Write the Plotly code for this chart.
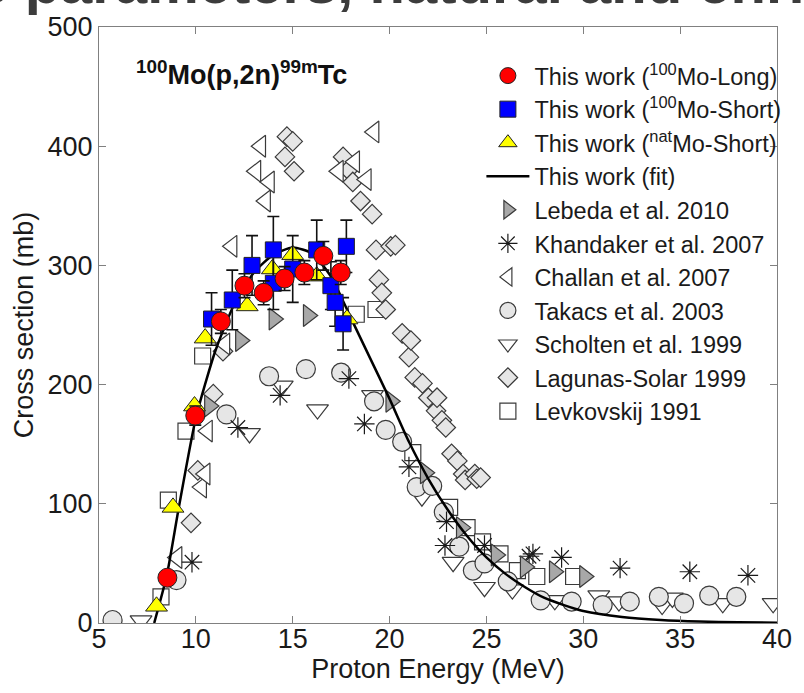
import plotly.graph_objects as go

# ---- This work: 100Mo(p,2n)99mTc cross sections (mb) vs proton energy (MeV)
long_E = [8.53, 9.97, 11.29, 12.51, 13.5, 14.58, 15.6, 16.58, 17.48]
long_xs = [38, 174, 253, 283, 277, 289, 294, 308, 294]
long_err = [3, 8, 10, 10, 10, 10, 10, 12, 10]

short_E = [10.81, 11.88, 12.9, 14.0, 14.0, 15.0, 16.24, 16.97, 17.19, 17.6, 17.77]
short_xs = [255, 271, 300, 313, 285, 297, 313, 283, 269, 251, 316]
short_err = [22, 25, 25, 28, 22, 28, 25, 20, 20, 22, 22]

nat_E = [7.97, 8.82, 9.93, 10.48, 12.65, 13.95, 15.0, 16.24, 17.8]
nat_xs = [14, 97, 182, 239, 266, 297, 309, 291, 255]

fit_E = [7.85, 8.5, 9.1, 10.0, 11.0, 12.0, 13.0, 14.0, 15.0, 16.0, 17.0, 18.0,
         19.0, 20.0, 21.0, 22.0, 23.0, 24.0, 25.0, 26.0, 27.0, 28.0, 29.0, 30.0,
         32.0, 34.0, 36.0, 38.0, 40.0]
fit_xs = [0, 40, 95, 172, 228, 268, 294, 309, 315, 310, 290, 256,
          222, 188, 152, 121, 95, 73, 55, 41, 30, 21, 15, 10,
          5, 2.5, 1.2, 0.6, 0.3]

# ---- Literature data
leb_E = [10.7, 12.3, 14.03, 15.8, 20.06, 21.84, 23.7, 25.5, 27.0, 28.5, 30.06]
leb_xs = [182, 237, 255, 258, 186, 126, 80, 57, 47, 43, 39]

kha_E = [9.8, 12.17, 14.35, 17.9, 18.7, 21.0, 22.86, 22.94, 24.9, 27.2, 27.4,
         28.88, 31.9, 35.5, 38.5]
kha_xs = [51, 164, 191, 205, 167, 131, 65, 85, 65, 56, 58, 55, 46, 43, 40]

cha_E = [9.03, 10.3, 10.48, 10.6, 11.5, 11.87, 13.1, 13.35, 13.6, 13.8, 17.36,
         18.2, 18.8, 19.2]
cha_xs = [55, 114, 125, 161, 234, 316, 379, 400, 354, 370, 379, 387, 372, 412]

tak_E = [5.7, 9.0, 11.58, 13.78, 15.68, 17.5, 19.2, 19.8, 20.65, 21.4, 22.2,
         22.8, 23.6, 24.3, 24.9, 26.1, 27.8, 29.4, 31.0, 32.4, 33.9, 35.2,
         36.5, 37.9]
tak_xs = [2.5, 36, 175, 207, 213, 210, 186, 162, 152, 114, 115, 93, 64, 44,
          50, 35, 19, 18, 15, 18, 22, 16.5, 23, 22]

sch_E = [7.17, 12.77, 14.46, 16.28, 19.12, 21.67, 23.28, 24.9, 26.34, 28.53,
         30.8, 31.84, 34.07, 34.6, 37.2, 39.8]
sch_xs = [2, 159, 199, 179, 191, 106, 51, 30, 28, 19, 23, 18, 15, 21, 16.5, 16.5]

lag_E = [9.75, 10.1, 10.9, 11.4, 14.6, 14.7, 15.0, 15.07, 17.6, 17.87, 18.1,
         18.5, 19.1, 19.3, 19.45, 19.6, 19.8, 20.06, 20.3, 20.65, 21.0, 21.1,
         21.3, 21.7, 22.0, 22.4, 22.45, 22.7, 22.9, 23.2, 23.5, 23.8, 23.9,
         24.4, 24.5, 24.7]
lag_xs = [84, 128, 192, 228, 391, 408, 404, 379, 391, 380, 370, 354, 343, 313,
          288, 277, 263, 316, 317, 243, 223, 237, 206, 201, 189, 178, 189, 170,
          164, 142, 136, 125, 120, 125, 121, 122]

lev_E = [8.2, 8.58, 9.49, 10.35, 18.28, 19.3, 21.2, 23.1, 24.0, 24.8, 25.7,
         26.6, 27.6, 29.5]
lev_xs = [22, 103, 161, 224, 259, 263, 143, 97, 80, 68, 58, 44, 39, 39]

FONT = "Liberation Sans, Arial, sans-serif"
EDGE = "#3a3a3a"
LIGHT = "#e6e6e6"

fig = go.Figure()


def lit(name, x, y, symbol, fill, size, rank, edge=EDGE):
    fig.add_trace(go.Scatter(
        x=x, y=y, mode="markers", name=name, legendrank=rank,
        marker=dict(symbol=symbol, size=size, color=fill,
                    line=dict(color=edge, width=1.2)),
    ))


# literature sets go underneath
lit("Levkovskij 1991", lev_E, lev_xs, "square", "white", 16, 11)
lit("Lagunas-Solar 1999", lag_E, lag_xs, "diamond", LIGHT, 15, 10)
lit("Scholten et al. 1999", sch_E, sch_xs, "triangle-down", "white", 19, 9)
lit("Takacs et al. 2003", tak_E, tak_xs, "circle", LIGHT, 19, 8)
lit("Challan et al. 2007", cha_E, cha_xs, "triangle-left", "white", 19, 7)
fig.add_trace(go.Scatter(
    x=kha_E, y=kha_xs, mode="markers", name="Khandaker et al. 2007", legendrank=6,
    marker=dict(symbol="asterisk-open", size=17, color="#1a1a1a",
                line=dict(color="#1a1a1a", width=1.2)),
))
lit("Lebeda et al. 2010", leb_E, leb_xs, "triangle-right", "#a8a8a8", 19, 5)

# fit curve
fig.add_trace(go.Scatter(
    x=fit_E, y=fit_xs, mode="lines", name="This work (fit)", legendrank=4,
    line=dict(color="black", width=2.5, shape="spline", smoothing=0.6),
))

# this work (on top)
fig.add_trace(go.Scatter(
    x=nat_E, y=nat_xs, mode="markers", name="This work (<sup>nat</sup>Mo-Short)",
    legendrank=3,
    marker=dict(symbol="triangle-up", size=19, color="#ffff00",
                line=dict(color="#222222", width=1)),
))
fig.add_trace(go.Scatter(
    x=short_E, y=short_xs, mode="markers", name="This work (<sup>100</sup>Mo-Short)",
    legendrank=2,
    error_y=dict(type="data", array=short_err, color="#111111", thickness=1.6, width=6),
    marker=dict(symbol="square", size=16, color="#0000ff",
                line=dict(color="#222222", width=1)),
))
fig.add_trace(go.Scatter(
    x=long_E, y=long_xs, mode="markers", name="This work (<sup>100</sup>Mo-Long)",
    legendrank=1,
    error_y=dict(type="data", array=long_err, color="#111111", thickness=1.6, width=6),
    marker=dict(symbol="circle", size=19, color="#ff0000",
                line=dict(color="#222222", width=1)),
))

axis_common = dict(
    showline=True, linecolor="#808080", linewidth=1, mirror="ticks",
    ticks="inside", ticklen=7, tickcolor="#808080", showgrid=False,
    zeroline=False, tickfont=dict(family=FONT, size=27, color="#1a1a1a"),
)

fig.update_layout(
    width=804, height=693,
    margin=dict(l=99, r=17, t=25, b=70),
    paper_bgcolor="white", plot_bgcolor="white",
    font=dict(family=FONT, color="#1a1a1a"),
    xaxis=dict(range=[5, 40], dtick=5, ticklabelstandoff=-8,
               title=dict(text="Proton Energy (MeV)", font=dict(size=27), standoff=0),
               **axis_common),
    yaxis=dict(range=[0, 500], dtick=100,
               title=dict(text="Cross section (mb)", font=dict(size=27), standoff=6),
               **axis_common),
    legend=dict(x=0.564, y=0.955, xanchor="left", yanchor="top",
                bgcolor="rgba(0,0,0,0)", borderwidth=0, itemwidth=43,
                font=dict(family=FONT, size=23.5, color="#1a1a1a"),
                tracegroupgap=0),
    showlegend=True,
)

# reaction label
fig.add_annotation(
    xref="paper", yref="paper", x=0.052, y=0.922, xanchor="left", yanchor="middle",
    text="<b><sup>100</sup>Mo(p,2n)<sup>99m</sup>Tc</b>", showarrow=False,
    font=dict(family=FONT, size=27, color="#111111"),
)

# slide heading running off the top edge
fig.add_annotation(
    xref="paper", yref="paper", x=-0.232, y=1.0, xanchor="left", yanchor="bottom",
    yshift=10,
    text="<b>se parameters, natural and enriched</b>", showarrow=False,
    font=dict(family=FONT, size=58, color="#3c3c3c"),
)

fig.write_html("out.html")
